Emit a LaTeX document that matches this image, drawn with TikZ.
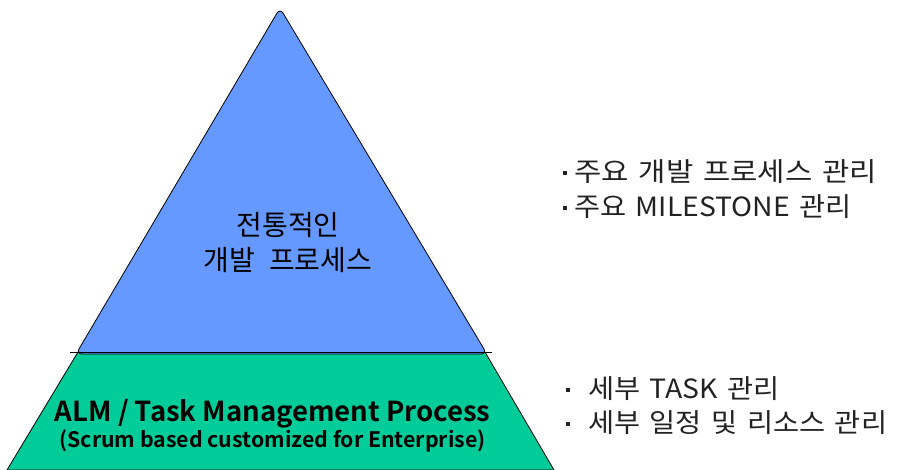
\documentclass[tikz,border=0pt]{standalone}
\usepackage{fontspec}
\setmainfont{Noto Sans CJK KR}[WordSpace=1.5]
\newfontfamily\krwide{Noto Sans CJK KR}[WordSpace=2.2]
\newfontfamily\krbold{Noto Sans CJK KR Bold}
\definecolor{topblue}{HTML}{6699FF}
\definecolor{basegreen}{HTML}{00CC99}
\definecolor{txtgray}{HTML}{222222}
\newcommand{\sqbul}{\raisebox{7pt}{\rule{4pt}{4pt}}}
\newcommand{\wide}[2][1.07]{\scalebox{#1}[1]{#2}}
\begin{document}
\begin{tikzpicture}[x=1pt,y=-1pt,
  layer/.style={draw=black,line width=0.8pt,line join=round},
  center text/.style={align=center,inner sep=0pt,text=black},
  bullet text/.style={anchor=west,inner sep=0pt,text=txtgray,font=\fontsize{26.5}{26.5}\selectfont}]
\useasboundingbox (0,0) rectangle (898,470);
% green base
\path[layer,fill=basegreen] (78,352) -- (485,352) -- (554,470) -- (7,470) -- cycle;
% blue top
\path[layer,fill=topblue,rounded corners=6pt] (280,8) -- (487,354) -- (76,354) -- cycle;
\draw[line width=0.8pt] (70,352.5) -- (492,352.5);
\node[center text,font=\krwide\fontsize{28}{35}\selectfont] (top) at (288,243) {전통적인\\개발 프로세스};
\node[center text,font=\krbold\fontsize{27.5}{27.5}\selectfont] (alm) at (272.5,414) {ALM / Task Management Process};
\node[center text,font=\krbold\fontsize{21.3}{21.3}\selectfont] (scrum) at (272.5,441) {(Scrum based customized for Enterprise)};
\node[bullet text] (b1) at (563,172) {\sqbul\hspace{7pt}\wide[1.12]{주요 개발 프로세스 관리}};
\node[bullet text] (b2) at (563,207) {\sqbul\hspace{7pt}\wide{주요 MILESTONE 관리}};
\node[bullet text] (b3) at (566,389) {\sqbul\hspace{18pt}\wide{세부 TASK 관리}};
\node[bullet text] (b4) at (566,423) {\sqbul\hspace{18pt}\wide{세부 일정 및 리소스 관리}};
\end{tikzpicture}
\end{document}
